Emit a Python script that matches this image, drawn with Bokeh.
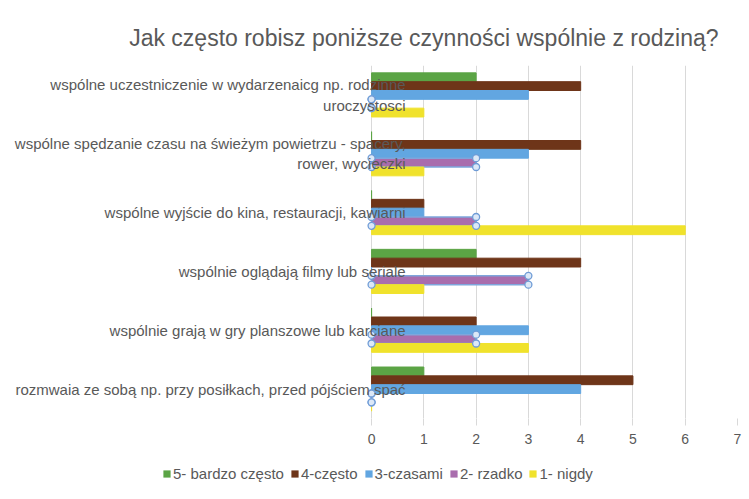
from bokeh.plotting import figure
from bokeh.layouts import column
from bokeh.models import ColumnDataSource, FactorRange, Range1d, FixedTicker, Legend, LegendItem
from bokeh.transform import dodge
from bokeh.core.properties import value
from bokeh.embed import file_html
from bokeh.resources import INLINE

title_text = "Jak często robisz poniższe czynności wspólnie z rodziną?"

categories = [
    "wspólne uczestniczenie w wydarzenaicg np. rodzinne\nuroczystosci",
    "wspólne spędzanie czasu na świeżym powietrzu - spacery,\nrower, wycieczki",
    "wspólne wyjście do kina, restauracji, kawiarni",
    "wspólnie oglądają filmy lub seriale",
    "wspólnie grają w gry planszowe lub karciane",
    "rozmwaia ze sobą np. przy posiłkach, przed pójściem spać",
]

series_names = ["5- bardzo często", "4-często", "3-czasami", "2- rzadko", "1- nigdy"]
bardzo_czesto = [2, 0, 0, 2, 0, 1]
czesto = [4, 4, 1, 4, 2, 5]
czasami = [3, 3, 1, 0, 3, 4]
rzadko = [0, 2, 2, 3, 2, 0]
nigdy = [1, 1, 6, 1, 3, 0]
x_ticks = [0, 1, 2, 3, 4, 5, 6, 7]

colors = ["#5BA445", "#6E3519", "#62A6E1", "#A96DAD", "#F0E22C"]
keys = ["s5", "s4", "s3", "s2", "s1"]
offsets = [0.3, 0.15, 0.0, -0.15, -0.3]
bar_h = 0.15

src = ColumnDataSource(dict(cat=categories, s5=bardzo_czesto, s4=czesto, s3=czasami,
                            s2=rzadko, s1=nigdy, zero=[0] * len(categories)))

p = figure(width=745, height=455, output_backend="svg", toolbar_location=None,
           y_range=FactorRange(factors=categories[::-1]),
           x_range=Range1d(-7.06, 7),
           min_border_left=2, min_border_right=8, min_border_top=65, min_border_bottom=37)
p.yaxis.visible = False
p.outline_line_color = None

p.title.text = title_text
p.title.align = "right"
p.title.offset = 19
p.title.text_font = "Liberation Sans"
p.title.text_font_size = "23px"
p.title.text_font_style = "normal"
p.title.text_color = "#595959"
p.title.standoff = 30

p.xgrid.ticker = FixedTicker(ticks=x_ticks)
p.xgrid.grid_line_color = "#D9D9D9"
p.ygrid.grid_line_color = None
p.xaxis.ticker = FixedTicker(ticks=x_ticks)
p.xaxis.axis_line_color = None
p.xaxis.major_tick_in = 0
p.xaxis.major_tick_out = 7
p.xaxis.major_tick_line_color = "#D9D9D9"
p.xaxis.minor_tick_line_color = None
p.xaxis.major_label_text_font = "Liberation Sans"
p.xaxis.major_label_text_font_size = "14px"
p.xaxis.major_label_text_color = "#595959"
p.xaxis.major_label_standoff = 8

for k, c, off in zip(keys, colors, offsets):
    if k == "s2":
        p.hbar(y=dodge("cat", off, range=p.y_range), left="zero", right=k, height=bar_h,
               source=src, fill_color=c, line_color="#7EA6DC", line_width=1.5)
    else:
        p.hbar(y=dodge("cat", off, range=p.y_range), left="zero", right=k, height=bar_h,
               source=src, fill_color=c, line_color=c)

for dy in (offsets[3] + bar_h / 2, offsets[3] - bar_h / 2):
    for xcol in ("zero", "s2"):
        p.scatter(x=xcol, y=dodge("cat", dy, range=p.y_range), source=src, marker="circle",
                  size=7, fill_color="#DCE8F7", line_color="#6E9BD6", line_width=1.3)

p.text(x=0, y="cat", text="cat", source=src, x_offset=34, text_align="right",
       text_baseline="middle", text_font=value("Liberation Sans"), text_font_size="15px",
       text_color="#595959")

# legend strip (series swatches come from hidden copies of the series renderers)
pl = figure(width=745, height=40, output_backend="svg", toolbar_location=None,
            x_range=Range1d(0, 1), y_range=Range1d(0, 1),
            min_border_left=0, min_border_right=0, min_border_top=0, min_border_bottom=0)
pl.axis.visible = False
pl.grid.visible = False
pl.outline_line_color = None
items = []
for k, c, name in zip(keys, colors, series_names):
    r = pl.hbar(y="zero", left="zero", right=k, height=1, source=src,
                fill_color=c, line_color=None, visible=False)
    items.append(LegendItem(label=name, renderers=[r]))
legend = Legend(items=items, orientation="horizontal", location=(160, 13),
                label_text_font="Liberation Sans", label_text_font_size="15px",
                label_text_color="#595959", border_line_color=None,
                background_fill_alpha=0, glyph_width=9, glyph_height=9,
                label_standoff=2, spacing=6, padding=2, margin=0)
pl.add_layout(legend, "center")

open("out.html", "w").write(file_html(column(p, pl, spacing=0), INLINE))
